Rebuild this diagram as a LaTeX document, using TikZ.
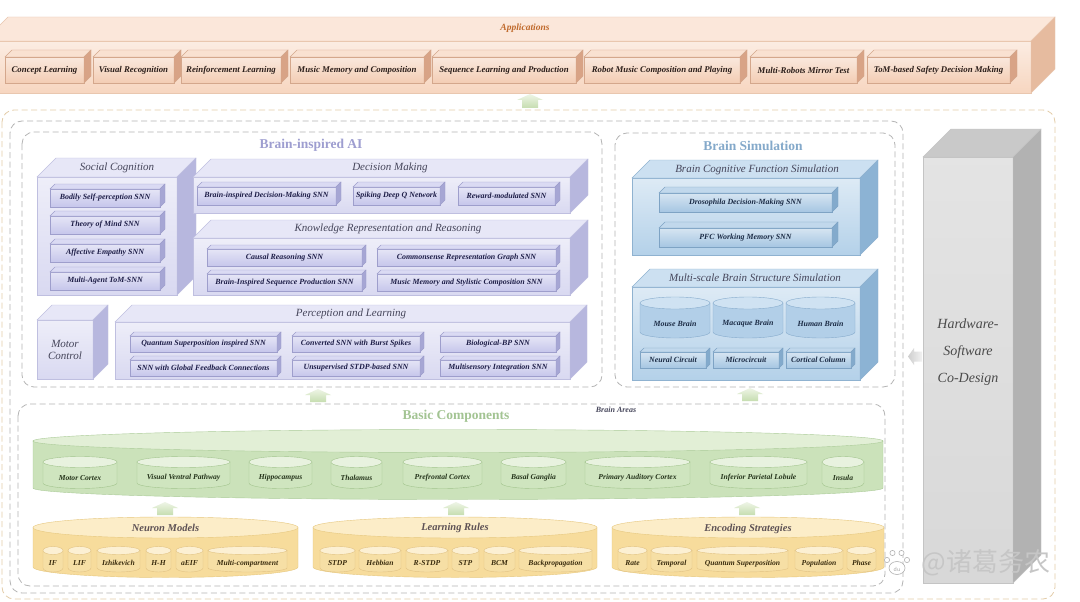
\documentclass[tikz,border=0pt]{standalone}
\usepackage{fontspec}
\setmainfont{Liberation Serif}
\newfontfamily\cjkfont{Noto Sans CJK SC}
\usetikzlibrary{shapes.geometric}
% colours
\definecolor{appF}{HTML}{F7D6C0}\definecolor{appT}{HTML}{FBE7DA}\definecolor{appS}{HTML}{E6BB9F}\definecolor{appL}{HTML}{E9C7AF}
\definecolor{appiF}{HTML}{F3CDB4}\definecolor{appiT}{HTML}{F9E1D1}\definecolor{appiS}{HTML}{D8A386}\definecolor{appiL}{HTML}{D4A78C}
\definecolor{lavF}{HTML}{D9D9F1}\definecolor{lavT}{HTML}{E7E7F7}\definecolor{lavS}{HTML}{B7B7DE}\definecolor{lavL}{HTML}{BFBFE0}
\definecolor{laviF}{HTML}{C6C6EB}\definecolor{laviT}{HTML}{DADAF3}\definecolor{laviS}{HTML}{A6A6D4}\definecolor{laviL}{HTML}{9E9ECC}
\definecolor{bluF}{HTML}{B4D1E9}\definecolor{bluT}{HTML}{CCE0F1}\definecolor{bluS}{HTML}{8CB3D4}\definecolor{bluL}{HTML}{8FB2D0}
\definecolor{bluiF}{HTML}{A6C6E2}\definecolor{bluiT}{HTML}{C1D8EC}\definecolor{bluiS}{HTML}{83AACC}\definecolor{bluiL}{HTML}{7EA3C4}
\definecolor{gryF}{HTML}{D8D8D8}\definecolor{gryT}{HTML}{C9C9C9}\definecolor{gryS}{HTML}{B2B2B2}\definecolor{gryL}{HTML}{C4C4C4}
\definecolor{gbB}{HTML}{CBE2BA}\definecolor{gbT}{HTML}{E2EFD6}\definecolor{gbL}{HTML}{ABCB98}
\definecolor{gsB}{HTML}{CFE5BF}\definecolor{gsT}{HTML}{E8F2DF}\definecolor{gsL}{HTML}{A2C48D}
\definecolor{ybB}{HTML}{F7DC9C}\definecolor{ybT}{HTML}{FCEDC8}\definecolor{ybL}{HTML}{E6C77E}
\definecolor{ysB}{HTML}{F6DFA5}\definecolor{ysT}{HTML}{FCF0D3}\definecolor{ysL}{HTML}{E1C283}
\definecolor{bcB}{HTML}{B2CFE8}\definecolor{bcT}{HTML}{CFE2F2}\definecolor{bcL}{HTML}{86ABCC}
\definecolor{txtA}{HTML}{2B1E1A}\definecolor{txtL}{HTML}{1D1D47}\definecolor{txtB}{HTML}{1B2B45}
\definecolor{txtG}{HTML}{24331A}\definecolor{txtY}{HTML}{3A2C0E}\definecolor{secC}{HTML}{45455A}
\definecolor{appTitle}{HTML}{C06A2C}\definecolor{mainL}{HTML}{9E9ED0}\definecolor{mainB}{HTML}{84A9CA}
\definecolor{mainG}{HTML}{A3C493}\definecolor{hwT}{HTML}{4A4A4A}
\definecolor{dashBeige}{HTML}{E3CCA8}\definecolor{dashGray}{HTML}{B5B5B5}
\definecolor{arrG1}{HTML}{EEF5E6}\definecolor{arrG2}{HTML}{C6DDB0}
\definecolor{arrY1}{HTML}{F2F2F2}\definecolor{arrY2}{HTML}{CFCFCF}
\tikzset{
 cubface/.style={draw=#1L, top color=#1F!45!white, bottom color=#1F, inner sep=1pt, outer sep=0pt, line width=0.4pt, align=center, #1txt},
 apptxt/.style={}, blutxt/.style={}, gbtxt/.style={}, ybtxt/.style={},
 grytxt/.style={top color=gryF!70!white, bottom color=gryF},
 appitxt/.style={font=\fontsize{8.8}{10}\selectfont\bfseries\itshape, text=txtA},
 lavtxt/.style={font=\fontsize{11}{13}\selectfont\itshape, text=secC},
 lavitxt/.style={font=\fontsize{7.9}{9}\selectfont\bfseries\itshape, text=txtL},
 bluitxt/.style={font=\fontsize{7.9}{9}\selectfont\bfseries\itshape, text=txtB},
 gstxt/.style={font=\fontsize{7.6}{9}\selectfont\bfseries\itshape, text=txtG},
 ystxt/.style={font=\fontsize{7.6}{9}\selectfont\bfseries\itshape, text=txtY},
 bctxt/.style={font=\fontsize{7.9}{9}\selectfont\bfseries\itshape, text=txtB},
 sect/.style={font=\fontsize{11}{13}\selectfont\itshape, text=secC, inner sep=0pt},
 cylt/.style={font=\fontsize{10.5}{12}\selectfont\bfseries\itshape, text=secC!80!brown, inner sep=0pt},
 maint/.style={font=\fontsize{13.5}{16}\selectfont\bfseries, inner sep=0pt},
 dashbox/.style={dash pattern=on 6pt off 3.5pt, rounded corners=12pt, line width=0.8pt},
 garrow/.style={top color=arrG1, bottom color=arrG2},
 grarrow/.style={left color=arrY2, right color=arrY1},
}
% 3D box: name, x1, y1, x2, y2 (front face), depth, colour prefix, text
\newcommand{\mycub}[8]{%
  \pgfmathsetmacro\cubw{#4-(#2)}%
  \pgfmathsetmacro\cubh{#5-(#3)}%
  \pgfmathsetmacro\cubx{(#2+#4)/2}%
  \pgfmathsetmacro\cuby{(#3+#5)/2}%
  \node[cubface=#7, minimum width=\cubw pt, minimum height=\cubh pt] (#1) at (\cubx,\cuby) {#8};
  \filldraw[fill=#7T, draw=#7L, line width=0.4pt] (#1.north west) -- ([shift={(#6,-#6)}]#1.north west) -- ([shift={(#6,-#6)}]#1.north east) -- (#1.north east) -- cycle;
  \filldraw[fill=#7S, draw=#7L, line width=0.4pt] (#1.north east) -- ([shift={(#6,-#6)}]#1.north east) -- ([shift={(#6,-#6)}]#1.south east) -- (#1.south east) -- cycle;
}
% cylinder: name, x1, x2, y top centre, y bottom centre, ry, prefix, text
\newcommand{\mycyl}[8]{%
  \pgfmathsetmacro\cylrx{(#3-#2)/2}%
  \pgfmathsetmacro\cylcx{(#3+#2)/2}%
  \pgfmathsetmacro\cylty{(#4+#5)/2+#6}%
  \path[draw=#7L, line width=0.4pt, left color=#7B, middle color=#7T, right color=#7B] (#2,#4) -- (#2,#5) arc[start angle=180, end angle=360, x radius=\cylrx pt, y radius=#6pt] -- (#3,#4) -- cycle;
  \path[draw=#7L, line width=0.4pt, fill=#7T] (\cylcx,#4) ellipse[x radius=\cylrx pt, y radius=#6pt];
  \node[#7txt, inner sep=0pt] (#1) at (\cylcx,\cylty) {#8};
}
% upward block arrow: x, y of tip, y of base
\newcommand{\uparrowblk}[3]{%
  \path[garrow] ({#1-8},#3) -- ({#1-8},{#2+6}) -- ({#1-13},{#2+6}) -- (#1,#2) -- ({#1+13},{#2+6}) -- ({#1+8},{#2+6}) -- ({#1+8},#3) -- cycle;
}
\begin{document}
\begin{tikzpicture}[x=1pt,y=-1pt]
\useasboundingbox (0,0) rectangle (1080,602);
\fill[white] (0,0) rectangle (1080,602);

% ---------------- Applications ----------------
\mycub{appbar}{-16}{41}{1031}{93}{24}{app}{}
\node[font=\fontsize{9.5}{11}\selectfont\bfseries\itshape, text=appTitle] (appT) at (525,28) {Applications};
\mycub{a1}{5}{57}{84}{83}{7}{appi}{Concept Learning}
\mycub{a2}{93}{57}{174}{83}{7}{appi}{Visual Recognition}
\mycub{a3}{181}{57}{281}{83}{7}{appi}{Reinforcement Learning}
\mycub{a4}{290}{57}{424}{83}{7}{appi}{Music Memory and Composition}
\mycub{a5}{432}{57}{576}{83}{7}{appi}{Sequence Learning and Production}
\mycub{a6}{584}{57}{740}{83}{7}{appi}{Robot Music Composition and Playing}
\mycub{a7}{750}{57}{857}{83}{7}{appi}{Multi-Robots Mirror Test}
\mycub{a8}{867}{57}{1010}{83}{7}{appi}{ToM-based Safety Decision Making}
\uparrowblk{530}{94}{108}

% ---------------- dashed frames ----------------
\draw[dashbox, draw=dashBeige] (2,110) rectangle (1055,599);
\draw[dashbox, draw=dashGray] (10,121) rectangle (903,593);
\draw[dashbox, draw=dashGray] (22,132) rectangle (602,387);
\draw[dashbox, draw=dashGray] (615,133) rectangle (895,387);
\draw[dashbox, draw=dashGray] (18,404) rectangle (885,586);

% ---------------- Brain-inspired AI ----------------
\node[maint, text=mainL] (biaiT) at (311,145) {Brain-inspired AI};
\mycub{soc}{37}{177}{177}{295}{19}{lav}{}
\node[sect] (socT) at (117,168) {Social Cognition};
\mycub{s1}{50}{189}{160}{207}{5}{lavi}{Bodily Self-perception SNN}
\mycub{s2}{50}{216}{160}{234}{5}{lavi}{Theory of Mind SNN}
\mycub{s3}{50}{244}{160}{262}{5}{lavi}{Affective Empathy SNN}
\mycub{s4}{50}{272}{160}{290}{5}{lavi}{Multi-Agent ToM-SNN}

\mycub{dm}{193}{177}{570}{213}{18}{lav}{}
\node[sect] (dmT) at (390,168) {Decision Making};
\mycub{d1}{197}{187}{336}{205}{5}{lavi}{Brain-inspired Decision-Making SNN}
\mycub{d2}{353}{187}{440}{205}{5}{lavi}{Spiking Deep Q Network}
\mycub{d3}{458}{187}{555}{205}{5}{lavi}{Reward-modulated SNN}

\mycub{krr}{193}{238}{570}{295}{18}{lav}{}
\node[sect] (krrT) at (388,229) {Knowledge Representation and Reasoning};
\mycub{k1}{207}{249}{362}{266}{4}{lavi}{Causal Reasoning SNN}
\mycub{k2}{377}{249}{556}{266}{4}{lavi}{Commonsense Representation Graph SNN}
\mycub{k3}{207}{274}{362}{291}{4}{lavi}{Brain-Inspired Sequence Production SNN}
\mycub{k4}{377}{274}{556}{291}{4}{lavi}{Music Memory and Stylistic Composition SNN}

\mycub{mc}{37}{320}{93}{379}{15}{lav}{Motor\\[-1pt]Control}

\mycub{pl}{115}{322}{570}{379}{17}{lav}{}
\node[sect] (plT) at (351,314) {Perception and Learning};
\mycub{p1}{130}{336}{277}{352}{4}{lavi}{Quantum Superposition inspired SNN}
\mycub{p2}{292}{336}{420}{352}{4}{lavi}{Converted SNN with Burst Spikes}
\mycub{p3}{440}{336}{556}{352}{4}{lavi}{Biological-BP SNN}
\mycub{p4}{130}{360}{277}{376}{4}{lavi}{SNN with Global Feedback Connections}
\mycub{p5}{292}{360}{420}{376}{4}{lavi}{Unsupervised STDP-based SNN}
\mycub{p6}{440}{360}{556}{376}{4}{lavi}{Multisensory Integration SNN}

% ---------------- Brain Simulation ----------------
\node[maint, text=mainB] (bsT) at (753,146) {Brain Simulation};
\mycub{bcf}{632}{178}{860}{255}{18}{blu}{}
\node[sect] (bcfT) at (757,170) {Brain Cognitive Function Simulation};
\mycub{b1}{659}{193}{832}{212}{6}{blui}{Drosophila Decision-Making SNN}
\mycub{b2}{659}{228}{832}{247}{6}{blui}{PFC Working Memory SNN}

\mycub{mbs}{632}{287}{860}{380}{18}{blu}{}
\node[sect] (mbsT) at (755,278) {Multi-scale Brain Structure Simulation};
\mycyl{mouse}{640}{710}{303}{332}{6}{bc}{Mouse Brain}
\mycyl{macaque}{713}{783}{303}{332}{6}{bc}{Macaque Brain}
\mycyl{human}{786}{855}{303}{332}{6}{bc}{Human Brain}
\mycub{m1}{640}{352}{706}{368}{4}{blui}{Neural Circuit}
\mycub{m2}{713}{352}{779}{368}{4}{blui}{Microcircuit}
\mycub{m3}{786}{352}{851}{368}{4}{blui}{Cortical Column}

% ---------------- Hardware ----------------
\mycub{hw}{923}{157}{1013}{583}{28}{gry}{}
\node[font=\fontsize{14}{27}\selectfont\itshape, text=hwT, align=center] (hwT) at (968,352) {Hardware-\\Software\\Co-Design};
\coordinate (hwarr) at (908,356.5);
\path[grarrow] (hwarr) -- ++(6,-8.5) -- ++(0,3.5) -- ++(8,0) -- ++(0,10) -- ++(-8,0) -- ++(0,3.5) -- cycle;

% arrows between layers
\uparrowblk{318}{389}{402}
\uparrowblk{750}{388}{401}

% ---------------- Basic Components ----------------
\node[maint, text=mainG] (bcT) at (456,416) {Basic Components};
\node[font=\fontsize{8}{9}\selectfont\bfseries\itshape, text=secC] (baT) at (616,410) {Brain Areas};
\mycyl{areas}{33}{883}{441}{488}{11.5}{gb}{}
\mycyl{g1}{43}{117}{462}{483}{5.5}{gs}{Motor Cortex}
\mycyl{g2}{137}{230}{462}{483}{5.5}{gs}{Visual Ventral Pathway}
\mycyl{g3}{249}{312}{462}{483}{5.5}{gs}{Hippocampus}
\mycyl{g4}{331}{382}{462}{483}{5.5}{gs}{Thalamus}
\mycyl{g5}{403}{482}{462}{483}{5.5}{gs}{Prefrontal Cortex}
\mycyl{g6}{501}{566}{462}{483}{5.5}{gs}{Basal Ganglia}
\mycyl{g7}{585}{690}{462}{483}{5.5}{gs}{Primary Auditory Cortex}
\mycyl{g8}{710}{807}{462}{483}{5.5}{gs}{Inferior Parietal Lobule}
\mycyl{g9}{822}{864}{462}{483}{5.5}{gs}{Insula}

\uparrowblk{165}{502}{515}
\uparrowblk{456}{502}{515}
\uparrowblk{747}{502}{515}

\mycyl{nm}{33}{298}{527.5}{567}{10.5}{yb}{}
\node[cylt] (nmT) at (165.5,528) {Neuron Models};
\mycyl{n1}{43}{63}{550.5}{568}{4}{ys}{IF}
\mycyl{n2}{68}{91}{550.5}{568}{4}{ys}{LIF}
\mycyl{n3}{97}{140}{550.5}{568}{4}{ys}{Izhikevich}
\mycyl{n4}{146}{171}{550.5}{568}{4}{ys}{H-H}
\mycyl{n5}{176}{203}{550.5}{568}{4}{ys}{aEIF}
\mycyl{n6}{208}{287}{550.5}{568}{4}{ys}{Multi-compartment}

\mycyl{lr}{313}{597}{527.5}{567}{10.5}{yb}{}
\node[cylt] (lrT) at (455,528) {Learning Rules};
\mycyl{l1}{320}{355}{550.5}{568}{4}{ys}{STDP}
\mycyl{l2}{359}{401}{550.5}{568}{4}{ys}{Hebbian}
\mycyl{l3}{406}{448}{550.5}{568}{4}{ys}{R-STDP}
\mycyl{l4}{452}{479}{550.5}{568}{4}{ys}{STP}
\mycyl{l5}{484}{515}{550.5}{568}{4}{ys}{BCM}
\mycyl{l6}{519}{592}{550.5}{568}{4}{ys}{Backpropagation}

\mycyl{es}{612}{884}{527.5}{567}{10.5}{yb}{}
\node[cylt] (esT) at (748,529) {Encoding Strategies};
\mycyl{e1}{618}{647}{550.5}{568}{4}{ys}{Rate}
\mycyl{e2}{651}{692}{550.5}{568}{4}{ys}{Temporal}
\mycyl{e3}{697}{788}{550.5}{568}{4}{ys}{Quantum Superposition}
\mycyl{e4}{795}{843}{550.5}{568}{4}{ys}{Population}
\mycyl{e5}{847}{876}{550.5}{568}{4}{ys}{Phase}

% ---------------- watermark ----------------
\begin{scope}[draw=gray!60, fill=white, line width=0.6pt]
\filldraw (887,560) circle[radius=2.6pt];
\filldraw (892.5,553) circle[radius=2.6pt];
\filldraw (901.5,553) circle[radius=2.6pt];
\filldraw (907,560) circle[radius=2.6pt];
\filldraw (897,568) ellipse[x radius=8pt, y radius=6.5pt];
\end{scope}
\node[font=\sffamily\fontsize{6}{6}\selectfont, text=gray!70, inner sep=0pt] (du) at (897,569) {du};
\node[font=\cjkfont\fontsize{26}{26}\selectfont, text=gray!45, inner sep=0pt] (wm) at (986,563) {@诸葛务农};
\end{tikzpicture}
\end{document}
